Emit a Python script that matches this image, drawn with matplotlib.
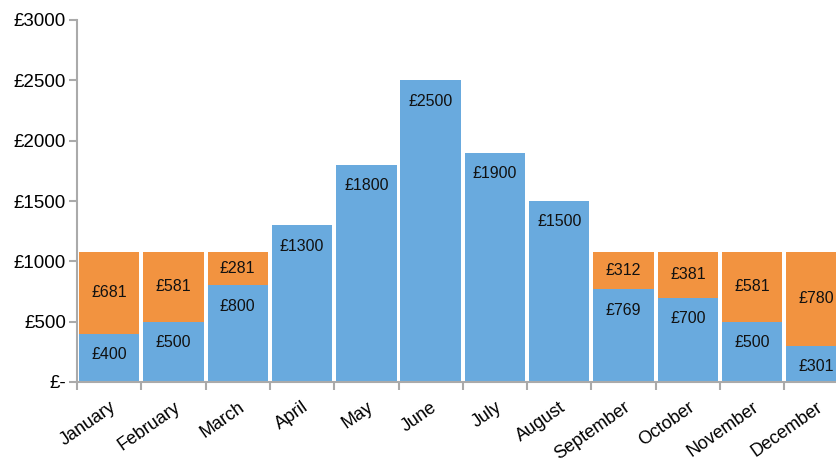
import matplotlib
matplotlib.use('Agg')
import matplotlib.pyplot as plt
import matplotlib.ticker as mticker
import numpy as np

## chart data
months = ['January', 'February', 'March', 'April', 'May', 'June', 'July',
          'August', 'September', 'October', 'November', 'December']
base = [400, 500, 800, 1300, 1800, 2500, 1900, 1500, 769, 700, 500, 301]
extra = [681, 581, 281, 0, 0, 0, 0, 0, 312, 381, 581, 780]
y_ticks = [0, 500, 1000, 1500, 2000, 2500, 3000]

blue = '#69aade'
orange = '#f29340'
axis_grey = '#aaaaaa'

plt.rcParams['font.family'] = ['Liberation Sans', 'DejaVu Sans']

fig = plt.figure(figsize=(8.37, 4.68), dpi=100)
ax = fig.add_axes([77/837, 86/468, 1 - 77/837, 362/468])

x = np.arange(len(months))
off, width = 0.03, 0.94
ax.bar(x + off, base, width=width, align='edge', color=blue)
ax.bar(x + off, extra, width=width, align='edge', bottom=base, color=orange)

## value labels: blue near the top of its bar, orange centred in its segment
for i, (b, e) in enumerate(zip(base, extra)):
    ax.annotate(f'£{b}', (i + 0.5, b), xytext=(0, -21), textcoords='offset pixels',
                ha='center', va='center', fontsize=11.5, color='#111111',
                annotation_clip=True)
    if e > 0:
        ax.text(i + 0.5, b + e / 2, f'£{e}', ha='center', va='center',
                fontsize=11.5, color='#111111', clip_on=True)

ax.set_xlim(0, 760 / 64.3)
ax.set_ylim(0, 3000)

## y axis
ax.set_yticks(y_ticks)
ax.yaxis.set_major_formatter(mticker.FuncFormatter(
    lambda v, p: '£-' if v == 0 else f'£{v:.0f}'))
ax.tick_params(axis='y', length=6, width=1.5, color=axis_grey, labelsize=13.5, pad=2)

## x axis: ticks at band edges, labels at band centres
ax.set_xticks(x, minor=True)
ax.set_xticks(x + 0.5)
ax.set_xticklabels(months, rotation=35, ha='right', va='top', rotation_mode='anchor')
ax.tick_params(axis='x', which='major', length=0, labelsize=13, pad=12)
ax.tick_params(axis='x', which='minor', length=6, width=1.5, color=axis_grey)

for s in ('top', 'right'):
    ax.spines[s].set_visible(False)
for s in ('left', 'bottom'):
    ax.spines[s].set_color(axis_grey)
    ax.spines[s].set_linewidth(1.5)

fig.savefig('out.png', dpi=100)
